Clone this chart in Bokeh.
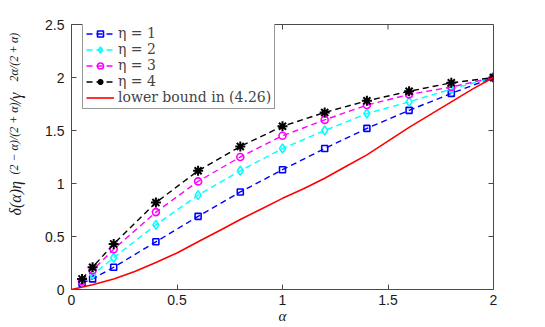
import math
from bokeh.plotting import figure
from bokeh.layouts import row
from bokeh.models import Range1d, FixedTicker, Label, Legend, LegendItem
from bokeh.embed import file_html
from bokeh.resources import INLINE

alpha = [0.05, 0.1, 0.2, 0.4, 0.6, 0.8, 1.0, 1.2, 1.4, 1.6, 1.8, 2.0]
eta1 = [0.06, 0.10, 0.21, 0.45, 0.69, 0.92, 1.13, 1.33, 1.52, 1.69, 1.85, 2.0]
eta2 = [0.07, 0.14, 0.30, 0.61, 0.89, 1.12, 1.33, 1.50, 1.66, 1.77, 1.89, 2.0]
eta3 = [0.08, 0.18, 0.38, 0.73, 1.02, 1.25, 1.45, 1.60, 1.74, 1.84, 1.91, 2.0]
eta4 = [0.10, 0.21, 0.43, 0.82, 1.12, 1.35, 1.54, 1.67, 1.78, 1.87, 1.95, 2.0]

alpha_lb = [0.0, 0.1, 0.2, 0.3, 0.4, 0.5, 0.6, 0.7, 0.8, 0.9, 1.0,
            1.1, 1.2, 1.3, 1.4, 1.5, 1.6, 1.7, 1.8, 1.9, 2.0]
lower_bound = [0.0, 0.045, 0.10, 0.17, 0.255, 0.345, 0.45, 0.555, 0.66, 0.76, 0.86,
               0.95, 1.05, 1.16, 1.27, 1.40, 1.53, 1.65, 1.77, 1.89, 2.0]

x_ticks = [0, 0.5, 1, 1.5, 2]
x_tick_labels = ["0", "0.5", "1", "1.5", "2"]
y_ticks = [0, 0.5, 1, 1.5, 2, 2.5]
y_tick_labels = ["0", "0.5", "1", "1.5", "2", "2.5"]

series_labels = ["η = 1", "η = 2", "η = 3", "η = 4"]
lb_label = "lower bound in (4.26)"
x_label = "α"
y_label_parts = ["δ(α)η", "(2 − α)/(2 + α)", "/γ", "2α/(2\u2009+\u2009α)"]

AX = "#4a4a4a"
TXT = "#1a1a1a"
W, H = 545, 327
LW = 36                      # width of the strip holding the y-axis label
FL, FR, FT, FB = 71, 52, 24, 38
MW = W - LW
FW, FH = W - FL - FR, H - FT - FB
XMIN, XMAX, YMIN, YMAX = 0, 2, 0, 2.5

p = figure(width=MW, height=H, output_backend="svg", toolbar_location=None,
           x_range=Range1d(XMIN, XMAX), y_range=Range1d(YMIN, YMAX),
           min_border_left=FL - LW, min_border_right=FR, min_border_top=FT, min_border_bottom=FB)
p.xgrid.visible = False
p.ygrid.visible = False
p.outline_line_color = AX
p.outline_line_width = 1
p.background_fill_color = "white"
p.border_fill_color = "white"

def style_axis(ax, ticks, labels):
    ax.ticker = FixedTicker(ticks=ticks)
    ax.major_label_overrides = {t: l for t, l in zip(ticks, labels)}
    ax.major_tick_in = 5
    ax.major_tick_out = 0
    ax.minor_tick_line_color = None
    ax.axis_line_color = AX
    ax.major_tick_line_color = AX
    ax.major_label_text_font = "Liberation Sans"
    ax.major_label_text_font_size = "14px"
    ax.major_label_text_color = TXT

style_axis(p.xaxis[0], x_ticks, x_tick_labels)
style_axis(p.yaxis[0], y_ticks, y_tick_labels)
p.xaxis[0].major_label_standoff = 5
p.yaxis[0].major_label_standoff = 7
p.xaxis[0].axis_label = x_label
p.xaxis[0].axis_label_text_font = "Liberation Serif"
p.xaxis[0].axis_label_text_font_style = "italic"
p.xaxis[0].axis_label_text_font_size = "15px"
p.xaxis[0].axis_label_standoff = 0
p.xaxis[0].axis_label_text_color = TXT

# mirrored ticks on top and right edges (box on)
tx = 5 * (XMAX - XMIN) / FW
ty = 5 * (YMAX - YMIN) / FH
p.segment(x0=x_ticks, y0=[YMAX] * len(x_ticks), x1=x_ticks, y1=[YMAX - ty] * len(x_ticks),
          line_color=AX, line_width=1)
p.segment(x0=[XMAX] * len(y_ticks), y0=y_ticks, x1=[XMAX - tx] * len(y_ticks), y1=y_ticks,
          line_color=AX, line_width=1)

colors = ["#0000ff", "#00ffff", "#ff00ff", "#000000"]
markers = ["square", "diamond", "circle", "asterisk"]
sizes = [6, 9, 7, 10]
widths = [1.6, 1.6, 1.6, 2.0]
items = []
for ys, c, m, s, w, lab in zip([eta1, eta2, eta3, eta4], colors, markers, sizes, widths, series_labels):
    r1 = p.line(alpha, ys, line_color=c, line_width=1.4, line_dash="6 4")
    r2 = p.scatter(alpha, ys, marker=m, size=s, line_color=c, fill_color=None, line_width=w)
    items.append(LegendItem(label=lab, renderers=[r1, r2]))
rl = p.line(alpha_lb, lower_bound, line_color="#ff0000", line_width=1.6)
items.append(LegendItem(label=lb_label, renderers=[rl]))

legend = Legend(items=items, location=(11, 180), margin=0, padding=3, spacing=0,
                glyph_width=28, glyph_height=15, label_height=15,
                label_text_font="DejaVu Serif", label_text_font_size="14px",
                label_standoff=4, border_line_color="#333333", border_line_width=1,
                background_fill_color="white", background_fill_alpha=1.0)
p.add_layout(legend)

# strip on the left carrying the composed y-axis label
lf = figure(width=LW, height=H, output_backend="svg", toolbar_location=None,
            x_range=Range1d(0, LW), y_range=Range1d(0, H),
            x_axis_type=None, y_axis_type=None,
            min_border_left=0, min_border_right=0, min_border_top=0, min_border_bottom=0)
lf.xgrid.visible = False
lf.ygrid.visible = False
lf.outline_line_color = None
lf.background_fill_color = "white"
lf.border_fill_color = "white"

def ylab(txt, ypage, xpage, size):
    lf.add_layout(Label(x=xpage, y=H - ypage, x_units="screen", y_units="screen",
                        text=txt, angle=math.pi / 2, text_font="Liberation Serif",
                        text_font_style="italic", text_font_size=size,
                        text_align="left", text_baseline="alphabetic", text_color=TXT))

ylab(y_label_parts[0], 253, 15, "16px")
ylab(y_label_parts[1], 212, 13, "12px")
ylab(y_label_parts[2], 141, 15, "16px")
ylab(y_label_parts[3], 119, 13, "12px")

layout = row(lf, p, spacing=0)
open("out.html", "w").write(file_html(layout, INLINE))
